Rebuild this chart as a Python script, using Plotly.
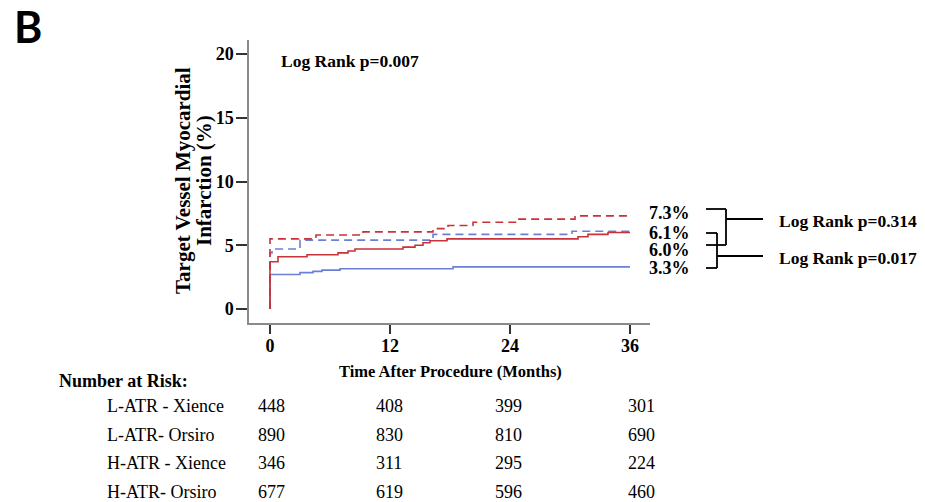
import plotly.graph_objects as go

# ---- cumulative incidence (%) by month, step functions ----
l_xience_t = [0, 0, 0.2, 3.0, 16.3, 30.2, 36]
l_xience_v = [0, 4.4, 4.7, 5.4, 5.85, 6.1, 6.1]

l_orsiro_t = [0, 0, 3.0, 4.3, 5.2, 7.0, 18.3, 36]
l_orsiro_v = [0, 2.7, 2.85, 2.95, 3.05, 3.15, 3.3, 3.3]

h_xience_t = [0, 0, 4.6, 9.3, 16.3, 17.8, 20.3, 24.8, 30.5, 36]
h_xience_v = [0, 5.5, 5.8, 6.05, 6.3, 6.55, 6.8, 7.05, 7.3, 7.3]

h_orsiro_t = [0, 0, 0.8, 3.7, 6.8, 7.8, 8.5, 13.3, 14.5, 15.3, 16.0, 17.7, 30.8, 31.8, 33.8, 36]
h_orsiro_v = [0, 3.7, 4.1, 4.25, 4.4, 4.55, 4.7, 4.85, 5.0, 5.2, 5.35, 5.5, 5.67, 5.85, 6.0, 6.0]

# ---- axes ----
x_ticks = [0, 12, 24, 36]
y_ticks = [0, 5, 10, 15, 20]

# ---- number at risk ----
risk_groups = ["L-ATR - Xience", "L-ATR- Orsiro", "H-ATR - Xience", "H-ATR- Orsiro"]
risk_l_xience = [448, 408, 399, 301]
risk_l_orsiro = [890, 830, 810, 690]
risk_h_xience = [346, 311, 295, 224]
risk_h_orsiro = [677, 619, 596, 460]

# ---- p-values ----
p_overall = "0.007"
p_h_atr = "0.314"
p_l_atr = "0.017"

RED = "#c8323a"
BLUE = "#6a80d6"
SERIF = "Liberation Serif, Times New Roman, serif"

W, H = 925, 502
ML, MR, MT, MB = 249, 275, 40, 179
PW, PH = W - ML - MR, H - MT - MB


def px_x(p):
    return (p - ML) / PW


def px_y(p):
    return (H - MB - p) / PH


fig = go.Figure()
series = [
    ("L-ATR - Xience", l_xience_t, l_xience_v, BLUE, "8px,5px"),
    ("L-ATR- Orsiro", l_orsiro_t, l_orsiro_v, BLUE, "solid"),
    ("H-ATR - Xience", h_xience_t, h_xience_v, RED, "8px,5px"),
    ("H-ATR- Orsiro", h_orsiro_t, h_orsiro_v, RED, "solid"),
]
for name, t, v, col, dash in series:
    fig.add_trace(go.Scatter(
        x=t, y=v, name=name, mode="lines",
        line=dict(color=col, width=1.6, dash=dash, shape="hv"),
        showlegend=False, hoverinfo="skip",
    ))

ann = []
shapes = []

# figure panel letter
ann.append(dict(text="<b>B</b>", x=px_x(12), y=px_y(26), xref="paper", yref="paper",
                xanchor="left", yanchor="middle", showarrow=False,
                font=dict(family="Lato, Liberation Sans, sans-serif", size=43, color="black")))

# y-axis title (two lines)
for txt, xc in [("Target Vessel Myocardial", 183), ("Infarction (%)", 204)]:
    ann.append(dict(text=f"<b>{txt}</b>", x=px_x(xc), y=px_y(181), xref="paper", yref="paper",
                    xanchor="center", yanchor="middle", textangle=-90, showarrow=False,
                    font=dict(family=SERIF, size=21, color="black")))

# x-axis title
ann.append(dict(text="<b>Time After Procedure (Months)</b>", x=px_x(450), y=px_y(372),
                xref="paper", yref="paper", xanchor="center", yanchor="middle",
                showarrow=False, font=dict(family=SERIF, size=16.5, color="black")))

# overall log-rank
ann.append(dict(text=f"<b>Log Rank p={p_overall}</b>", x=px_x(279), y=px_y(61),
                xref="paper", yref="paper", xanchor="left", yanchor="middle",
                showarrow=False, font=dict(family=SERIF, size=17.5, color="black")))

# end-of-curve percentages, spaced apart to stay readable
end_labels = [(h_xience_v[-1], 213), (l_xience_v[-1], 233),
              (h_orsiro_v[-1], 250), (l_orsiro_v[-1], 268)]
for val, yp in end_labels:
    ann.append(dict(text=f"<b>{val:.1f}%</b>", x=px_x(647), y=px_y(yp),
                    xref="paper", yref="paper", xanchor="left", yanchor="middle",
                    showarrow=False, font=dict(family=SERIF, size=18, color="black")))


def seg(x0, y0, x1, y1):
    shapes.append(dict(type="line", xref="paper", yref="paper",
                       x0=px_x(x0), y0=px_y(y0), x1=px_x(x1), y1=px_y(y1),
                       line=dict(color="black", width=1.8)))


# bracket: H-ATR Xience vs H-ATR Orsiro
seg(706, 209, 726, 209)
seg(726, 209, 726, 245)
seg(706, 245, 726, 245)
seg(726, 219, 763, 219)
# bracket: L-ATR Xience vs L-ATR Orsiro
seg(706, 233, 717, 233)
seg(717, 233, 717, 268)
seg(706, 268, 717, 268)
seg(717, 256, 763, 256)

for txt, yp in [(p_h_atr, 221), (p_l_atr, 258)]:
    ann.append(dict(text=f"<b>Log Rank p={txt}</b>", x=px_x(777), y=px_y(yp),
                    xref="paper", yref="paper", xanchor="left", yanchor="middle",
                    showarrow=False, font=dict(family=SERIF, size=17.5, color="black")))

# number-at-risk table
ann.append(dict(text="<b>Number at Risk:</b>", x=px_x(57), y=px_y(381),
                xref="paper", yref="paper", xanchor="left", yanchor="middle",
                showarrow=False, font=dict(family=SERIF, size=18, color="black")))
risk_rows = [risk_l_xience, risk_l_orsiro, risk_h_xience, risk_h_orsiro]
row_y = [406, 435, 463, 492]
col_x = [271, 389, 508, 641]
for grp, counts, yp in zip(risk_groups, risk_rows, row_y):
    ann.append(dict(text=grp, x=px_x(105), y=px_y(yp), xref="paper", yref="paper",
                    xanchor="left", yanchor="middle", showarrow=False,
                    font=dict(family=SERIF, size=18, color="black")))
    for n, xp in zip(counts, col_x):
        ann.append(dict(text=str(n), x=px_x(xp), y=px_y(yp), xref="paper", yref="paper",
                        xanchor="center", yanchor="middle", showarrow=False,
                        font=dict(family=SERIF, size=18, color="black")))

axis_common = dict(
    showline=True, linecolor="#8a8a8a", linewidth=1.5,
    ticks="outside", tickwidth=1.5, tickcolor="#333333",
    showgrid=False, zeroline=False,
    tickfont=dict(family=SERIF, size=18, color="black", weight="bold"),
)

fig.update_layout(
    width=W, height=H, autosize=False,
    margin=dict(l=ML, r=MR, t=MT, b=MB),
    paper_bgcolor="white", plot_bgcolor="white",
    xaxis=dict(range=[-2.1, 38.0], tickvals=x_ticks, ticklen=9,
               ticklabelstandoff=-3, **axis_common),
    yaxis=dict(range=[-1.1, 21.1], tickvals=y_ticks, ticklen=11,
               ticklabelstandoff=-1, **axis_common),
    annotations=ann, shapes=shapes,
)

fig.write_html("out.html")
